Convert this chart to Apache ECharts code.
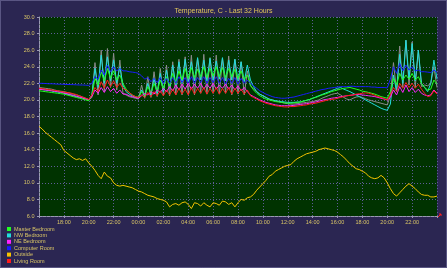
<!DOCTYPE html>
<html><head><meta charset="utf-8">
<script src="https://cdn.jsdelivr.net/npm/echarts@6/dist/echarts.min.js"></script>
<style>html,body{margin:0;padding:0;background:#2b2652}#c{width:447px;height:268px}</style>
</head><body><div id="c"></div><script>
// sample times, hours since midnight of day 1
const hours = [16,16.25,16.5,16.75,17,17.25,17.5,17.75,18,18.25,18.5,18.75,19,19.25,19.5,19.75,20,20.25,20.5,20.75,21,21.25,21.5,21.75,22,22.25,22.5,22.75,23,23.25,23.5,23.75,24,24.25,24.5,24.75,25,25.25,25.5,25.75,26,26.25,26.5,26.75,27,27.25,27.5,27.75,28,28.25,28.5,28.75,29,29.25,29.5,29.75,30,30.25,30.5,30.75,31,31.25,31.5,31.75,32,32.25,32.5,32.75,33,33.25,33.5,33.75,34,34.25,34.5,34.75,35,35.25,35.5,35.75,36,36.25,36.5,36.75,37,37.25,37.5,37.75,38,38.25,38.5,38.75,39,39.25,39.5,39.75,40,40.25,40.5,40.75,41,41.25,41.5,41.75,42,42.25,42.5,42.75,43,43.25,43.5,43.75,44,44.25,44.5,44.75,45,45.25,45.5,45.75,46,46.25,46.5,46.75,47,47.25,47.5,47.75,48];

const xTickLabels = ['18:00','20:00','22:00','00:00','02:00','04:00','06:00','08:00','10:00','12:00','14:00','16:00','18:00','20:00','22:00'];

const masterBedroom = [
21.1,21.05,21.0,20.95,20.9,20.85,20.8,20.75,20.7,20.6,20.5,20.4,20.3,20.2,20.1,20.0,19.9,
20.5,22.6,21.8,23.4,22.3,23.8,22.6,23.5,22.4,23.0,22.0,
21.3,20.9,20.6,20.4,20.3,
21.0,20.5,21.6,20.8,22.0,21.0,22.4,21.3,22.8,21.6,23.2,22.0,23.5,22.4,23.8,22.6,23.9,22.7,23.7,22.8,24.0,22.7,23.8,22.9,24.0,22.8,23.9,22.7,23.8,22.8,23.7,22.6,23.5,22.5,23.0,
21.8,21.2,20.8,20.5,20.3,20.1,20.0,19.9,19.8,19.75,19.7,19.65,19.6,19.6,19.65,19.7,19.75,19.85,19.95,20.05,20.2,20.3,20.45,20.6,20.7,20.85,21.0,21.1,21.2,21.3,21.4,21.45,21.5,21.4,21.3,21.2,21.05,21.0,20.9,20.8,20.7,20.55,20.4,20.3,20.2,
21.0,22.6,21.8,23.2,22.4,23.0,22.5,23.2,22.4,22.8,22.0,21.5,21.2,21.3,22.4,21.9];

const nwBedroom = [
21.3,21.25,21.2,21.15,21.1,21.0,20.95,20.9,20.8,20.7,20.6,20.5,20.4,20.3,20.2,20.1,20.0,
20.6,23.8,21.5,25.4,22.0,25.2,22.3,24.8,22.0,24.0,21.8,
21.0,20.7,20.5,20.3,20.2,
21.2,20.4,22.0,20.6,22.6,20.8,23.2,21.0,23.6,21.4,24.2,21.8,24.6,22.0,24.9,22.2,24.6,22.3,25.1,22.4,24.8,22.3,25.0,22.4,24.7,22.5,25.1,22.3,24.8,22.4,24.9,22.3,24.6,22.2,24.2,
22.4,21.6,21.0,20.7,20.5,20.3,20.1,20.0,19.9,19.85,19.8,19.75,19.7,19.7,19.7,19.75,19.75,19.85,19.95,20.05,20.2,20.35,20.5,20.65,20.8,20.95,21.1,21.25,21.4,21.5,21.3,21.15,21.0,20.8,20.6,20.4,20.2,20.0,19.8,19.6,19.4,19.2,19.0,18.85,18.75,
19.5,23.0,21.0,25.5,22.0,27.2,22.5,26.8,22.3,26.0,22.0,21.5,21.0,22.0,24.8,22.5];

const neBedroom = [
21.3,21.25,21.2,21.15,21.1,21.05,21.0,20.95,20.85,20.75,20.65,20.55,20.45,20.35,20.25,20.15,20.05,
20.4,21.2,20.8,21.5,20.9,21.6,21.0,21.4,20.8,21.2,20.7,
20.7,20.5,20.4,20.3,20.2,
20.5,20.8,20.6,21.0,20.7,21.2,20.9,21.4,21.0,21.6,21.1,21.8,21.2,21.9,21.3,22.0,21.3,21.9,21.4,22.0,21.3,21.9,21.4,22.0,21.3,21.8,21.4,21.9,21.3,21.8,21.2,21.7,21.1,21.5,21.0,
20.6,20.4,20.2,20.0,19.85,19.7,19.6,19.5,19.4,19.35,19.3,19.3,19.3,19.3,19.35,19.4,19.45,19.5,19.55,19.6,19.7,19.75,19.85,19.95,20.05,20.1,20.2,20.25,20.3,20.4,20.45,20.5,20.55,20.6,20.65,20.65,20.6,20.55,20.5,20.45,20.4,20.3,20.2,20.1,20.0,
20.3,21.2,20.6,21.6,20.9,21.8,21.0,21.5,20.9,21.3,20.8,20.6,20.5,20.6,21.2,20.8];

const computerRoom = [
22.0,22.0,21.98,21.95,21.95,21.93,21.9,21.9,21.88,21.86,21.85,21.84,21.82,21.8,21.8,21.78,21.75,
22.0,22.8,22.5,23.6,23.0,24.2,23.4,24.0,23.5,23.8,23.5,
23.5,23.4,23.35,23.3,23.2,
22.9,22.5,22.7,22.2,22.6,22.1,22.7,22.0,22.6,22.0,22.7,22.0,22.8,22.1,22.7,21.9,22.8,22.0,22.7,22.1,22.8,22.0,22.7,22.1,22.8,22.0,22.7,21.9,22.6,22.0,22.7,21.9,22.6,22.0,22.4,
22.0,21.7,21.4,21.1,20.9,20.7,20.55,20.4,20.3,20.25,20.2,20.2,20.25,20.3,20.35,20.45,20.55,20.65,20.75,20.85,20.95,21.05,21.15,21.25,21.3,21.4,21.45,21.5,21.55,21.6,21.6,21.6,21.65,21.65,21.6,21.6,21.6,21.6,21.6,21.55,21.55,21.5,21.5,21.5,21.45,
22.5,24.0,23.2,24.4,23.5,24.2,23.6,24.0,23.5,23.6,23.4,23.4,23.35,23.3,23.6,23.3];

const outside = [
16.8,16.5,16.1,15.8,15.5,15.2,14.9,14.6,13.9,13.6,13.3,13.0,12.8,12.9,12.7,12.9,12.4,
12.0,11.5,10.9,10.5,11.3,10.8,10.6,10.0,9.7,9.6,9.7,
9.6,9.5,9.4,9.2,9.0,
8.9,8.7,8.5,8.4,8.3,8.1,8.0,7.9,7.7,7.1,7.4,7.5,7.3,7.6,7.7,7.4,6.9,7.6,7.5,7.2,7.6,7.3,7.1,7.6,7.5,7.3,7.8,7.7,7.4,7.6,7.1,7.6,8.0,7.9,8.2,
8.3,8.6,9.1,9.5,9.9,10.3,10.8,11.0,11.4,11.6,11.8,12.0,12.1,12.2,12.6,12.9,13.1,13.3,13.5,13.6,13.7,13.8,14.0,14.1,14.2,14.1,14.0,13.9,13.7,13.4,13.1,12.7,12.3,12.0,11.7,11.6,11.4,11.2,10.8,10.6,10.5,10.6,10.9,10.6,10.0,
9.3,8.7,8.4,8.8,9.2,9.6,9.9,9.6,9.3,8.9,8.6,8.5,8.5,8.3,8.3,8.4];

const livingRoom = [
21.4,21.35,21.3,21.25,21.2,21.15,21.1,21.0,20.95,20.9,20.85,20.75,20.65,20.5,20.35,20.2,20.05,
20.6,21.5,21.0,22.2,21.4,22.4,21.6,22.3,21.5,22.0,21.4,
21.2,20.9,20.6,20.4,20.3,
20.6,20.3,20.9,20.4,21.0,20.5,21.1,20.5,21.2,20.6,21.3,20.6,21.4,20.7,21.3,20.6,21.5,20.7,21.4,20.8,21.5,20.7,21.4,20.8,21.5,20.7,21.4,20.8,21.5,20.7,21.4,20.8,21.3,20.7,21.2,
20.5,20.3,20.1,19.9,19.75,19.6,19.5,19.4,19.3,19.25,19.2,19.15,19.15,19.2,19.2,19.25,19.3,19.35,19.4,19.5,19.55,19.6,19.7,19.8,19.9,20.0,20.05,20.1,20.2,20.3,20.4,20.5,20.55,20.6,20.7,20.75,20.8,20.85,20.8,20.7,20.55,20.4,20.3,20.15,20.0,
20.6,21.5,21.0,22.0,21.4,22.1,21.5,22.0,21.4,21.9,21.3,20.8,20.4,20.5,21.1,20.7];

// grey trace drawn in the plot without a visible legend entry
const otherSensor = [
21.5,21.45,21.4,21.35,21.3,21.2,21.1,21.05,21.0,20.9,20.8,20.7,20.6,20.5,20.35,20.2,20.0,
20.3,24.5,20.6,26.0,21.0,26.2,21.5,25.6,21.2,24.8,20.8,
20.6,20.4,20.3,20.2,20.1,
21.8,20.2,22.8,20.3,23.4,20.4,23.8,20.5,24.2,20.5,24.6,20.6,24.9,20.6,25.2,20.7,25.4,20.6,25.0,20.8,25.5,20.7,25.1,20.8,25.4,20.7,25.0,20.8,25.3,20.6,24.9,20.7,24.6,20.6,23.5,
21.7,21.3,21.0,20.7,20.5,20.3,20.1,20.0,19.9,19.8,19.7,19.6,19.55,19.5,19.5,19.55,19.6,19.65,19.7,19.75,19.8,19.9,20.0,20.2,20.35,20.5,20.65,20.75,20.8,20.6,20.3,20.1,20.0,20.2,20.35,20.4,20.3,20.15,20.0,19.9,19.8,19.7,19.6,19.5,19.4,
20.5,24.5,21.0,26.5,21.5,27.2,21.8,27.0,21.5,26.0,21.6,21.8,21.7,22.0,24.0,21.5];

const legendNames = ['Master Bedroom','NW Bedroom','NE Bedroom','Computer Room','Outside','Living Room'];

const chart = echarts.init(document.getElementById('c'), null, {renderer:'canvas'});
const pair = arr => hours.map((h, i) => [h, arr[i]]);
const mk = (name, arr, color, z) => ({
  name, type:'line', data: pair(arr), showSymbol:false, symbol:'none',
  lineStyle:{width:1, color}, itemStyle:{color}, z, animation:false, emphasis:{disabled:true}
});
const txt = '#d8c466';
const axisCol = '#9a9ab2';
const option = {
  backgroundColor:'#2b2652',
  animation:false,
  textStyle:{fontFamily:'Liberation Sans'},
  title:{text:'Temperature, C - Last 32 Hours', left:'center', top:3,
    textStyle:{color:'#e2c75a', fontSize:7, fontWeight:'normal', fontFamily:'Liberation Sans'}},
  legend:{data:legendNames, orient:'vertical', left:7, top:226, icon:'rect', itemWidth:4, itemHeight:4,
    itemGap:0.4, padding:0, selectedMode:false,
    textStyle:{color:txt, fontSize:5.5, lineHeight:6, padding:[0,0,0,-2], fontFamily:'Liberation Sans'}},
  grid:{left:39, top:17, right:10, bottom:52, show:true, backgroundColor:'#003300', borderWidth:0},
  xAxis:{type:'value', min:16, max:48, interval:2,
    axisLine:{show:true, lineStyle:{color:axisCol, type:[3,1]}},
    axisTick:{show:true, length:2, lineStyle:{color:axisCol}},
    axisLabel:{color:txt, fontSize:5.5, margin:3, fontFamily:'Liberation Sans',
      formatter: v => { const k = Math.round((v - 18) / 2); return (k >= 0 && k < xTickLabels.length) ? xTickLabels[k] : ''; }},
    splitLine:{show:true, lineStyle:{color:'#5e5e98', type:[1,2], width:1}}},
  yAxis:{type:'value', min:6, max:30, interval:2,
    axisLine:{show:true, lineStyle:{color:axisCol, type:[3,1]}},
    axisTick:{show:true, length:2, lineStyle:{color:axisCol}},
    axisLabel:{color:txt, fontSize:5.5, margin:4.5, fontFamily:'Liberation Sans', formatter: v => v.toFixed(1)},
    splitLine:{show:true, lineStyle:{color:'#5e5e98', type:[1,2], width:1}}},
  graphic:[
    {type:'rect', shape:{x:0.5, y:0.5, width:446, height:267}, style:{fill:null, stroke:'#8a86b4', lineWidth:1, lineDash:[1,1]}, silent:true},
    {type:'polyline', shape:{points:[[438,217],[441,214]]}, style:{stroke:'#ff2020', lineWidth:1}, silent:true},
    {type:'polyline', shape:{points:[[439,214],[441,214],[441,216]]}, style:{stroke:'#ff2020', lineWidth:1, fill:null}, silent:true}
  ],
  series:[
    mk('Other', otherSensor, '#8c8c8c', 2),
    mk('NW Bedroom', nwBedroom, '#22dddd', 3),
    mk('Master Bedroom', masterBedroom, '#22ff22', 4),
    mk('Computer Room', computerRoom, '#1a1aff', 5),
    mk('NE Bedroom', neBedroom, '#ff22ff', 6),
    mk('Living Room', livingRoom, '#ff1a1a', 7),
    mk('Outside', outside, '#f5c400', 8)
  ]
};
chart.setOption(option);
</script></body></html>
